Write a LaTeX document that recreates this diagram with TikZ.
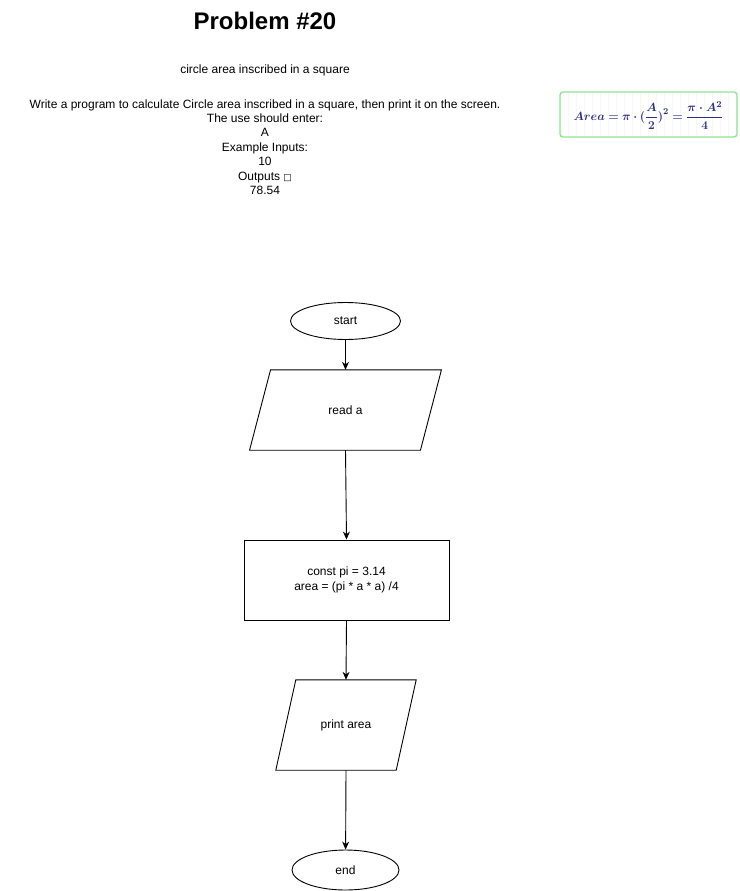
\documentclass[tikz,border=0pt]{standalone}
\usepackage{amsmath}
\usepackage{bm}
\usepackage{fontspec}
\setmainfont{Liberation Sans}
\newfontfamily\symfont{DejaVu Sans}
\usetikzlibrary{arrows.meta,shapes.geometric}
\definecolor{formulablue}{HTML}{2E2E8A}
\definecolor{boxgreen}{HTML}{8EE68E}
\tikzset{
  x=1pt, y=-1pt,
  txt/.style={font=\fontsize{12}{14.4}\selectfont, inner sep=0pt, align=center},
  term/.style={ellipse, draw, line width=0.9pt, font=\fontsize{12}{14.4}\selectfont},
  proc/.style={rectangle, draw, line width=0.9pt, font=\fontsize{12}{14.4}\selectfont, align=center, inner sep=0pt},
  io/.style={rectangle, font=\fontsize{12}{14.4}\selectfont, align=center, inner sep=0pt},
  flow/.style={line width=0.9pt, -{Stealth[length=8pt,width=7pt]}},
  slant/.style={line width=0.9pt, line join=miter}
}
\begin{document}
\begin{tikzpicture}
\useasboundingbox (0,0) rectangle (739,891);

% heading and problem statement
\node[txt, font=\fontsize{24}{28}\selectfont\bfseries] (title) at (265,21) {Problem \#20};
\node[txt] (subtitle) at (265,70) {circle area inscribed in a square};
\node[txt] (statement) at (265,147) {Write a program to calculate Circle area inscribed in a square, then print it on the screen.\\
The use should enter:\\
A\\
Example Inputs:\\
10\\
Outputs {\symfont\fontsize{9}{10}\selectfont □}\\
78.54};

% formula card
\begin{scope}
  \clip[rounded corners=3pt] (560,92) rectangle (737,137);
  \draw[gray!6, line width=0.4pt, step=8] (560,92) grid (737,137);
\end{scope}
\draw[boxgreen, line width=1.4pt, rounded corners=3pt] (560,92) rectangle (737,137);
\node[text=formulablue, inner sep=0pt] (formula) at (648.5,115.5)
  {\fontsize{12.2}{14}\selectfont$\displaystyle\bm{Area = \pi\cdot(\frac{A}{2})^2 = \frac{\pi\cdot A^2}{4}}$};

% flowchart
\node[term, minimum width=110, minimum height=37] (start) at (345.5,321) {start};

\node[io, minimum width=170.5, minimum height=80] (read) at (345.5,410) {read a};
\draw[slant] ([xshift=10.5]read.north west) -- ([xshift=10.5]read.north east)
  -- ([xshift=-10.5]read.south east) -- ([xshift=-10.5]read.south west) -- cycle;

\node[proc, minimum width=205, minimum height=80] (calc) at (346.5,580)
  {const pi = 3.14\\area = (pi * a * a) /4};

\node[io, minimum width=120, minimum height=90] (print) at (346,725) {print area};
\draw[slant] ([xshift=10]print.north west) -- ([xshift=10]print.north east)
  -- ([xshift=-10]print.south east) -- ([xshift=-10]print.south west) -- cycle;

\node[term, minimum width=107, minimum height=40] (end) at (345.5,870) {end};

\draw[flow] (start) -- (read.north);
\draw[flow] (read.south) -- (calc.north);
\draw[flow] (calc.south) -- (print.north);
\draw[flow] (print.south) -- (end);
\end{tikzpicture}
\end{document}
